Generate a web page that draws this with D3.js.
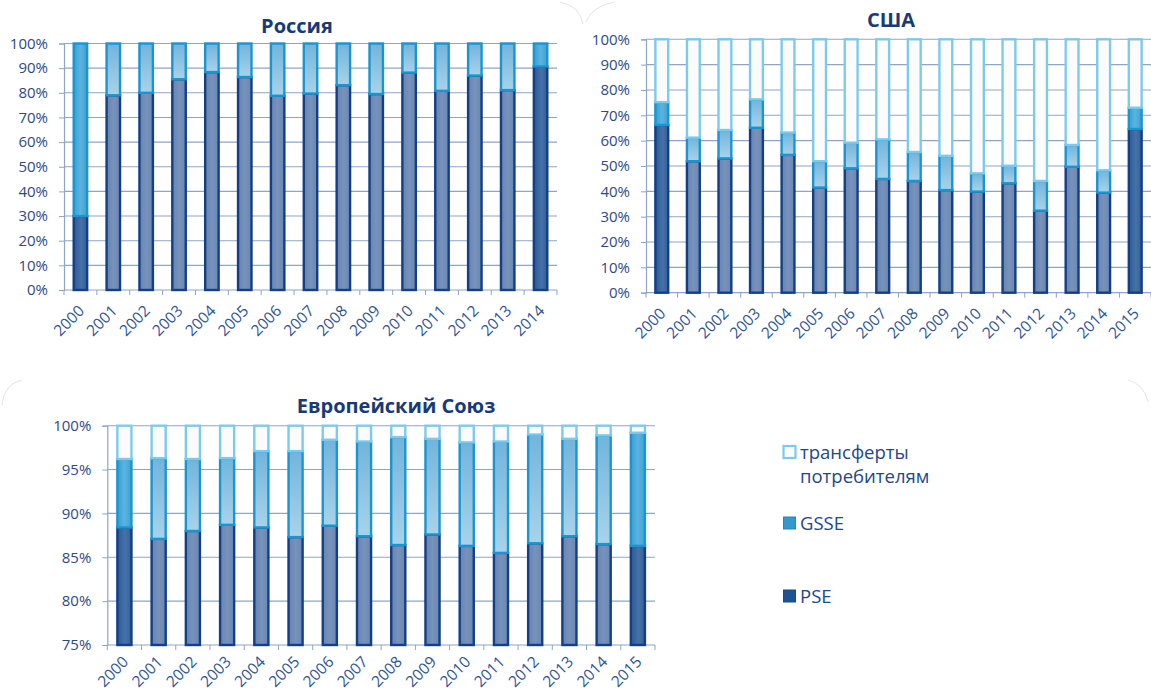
<!DOCTYPE html>
<html lang="ru">
<head>
    <meta charset="UTF-8">
    <title>PSE, GSSE и трансферты потребителям</title>
    <script src="https://cdn.jsdelivr.net/npm/d3@7"></script>
    <style>
        body { margin: 0; background: #fff; }
        text { font-family: "Open Sans", "DejaVu Sans", sans-serif; }
    </style>
</head>
<body>
<script>
    const [width, height] = [1151, 693]

    // данные, доли в % (PSE снизу, GSSE, трансферты сверху)
    const russiaYears = ['2000', '2001', '2002', '2003', '2004', '2005', '2006', '2007', '2008', '2009', '2010', '2011', '2012', '2013', '2014']
    const russiaPSE = [30, 79, 80, 85.5, 88.4, 86.4, 78.8, 79.7, 83.1, 79.5, 88.2, 80.8, 87, 81.1, 90.7]
    const russiaGSSE = [70, 21, 20, 14.5, 11.6, 13.6, 21.2, 20.3, 16.9, 20.5, 11.8, 19.2, 13, 18.9, 9.3]
    const russiaTransfers = [0, 0, 0, 0, 0, 0, 0, 0, 0, 0, 0, 0, 0, 0, 0]

    const usaYears = ['2000', '2001', '2002', '2003', '2004', '2005', '2006', '2007', '2008', '2009', '2010', '2011', '2012', '2013', '2014', '2015']
    const usaPSE = [66.2, 51.9, 53, 65.1, 54.4, 41.5, 49.1, 44.9, 44.1, 40.5, 39.9, 43.2, 32.4, 49.7, 39.5, 64.6]
    const usaGSSE = [9, 9.3, 11.2, 11.2, 8.8, 10.4, 10.1, 15.6, 11.4, 13.5, 7.2, 6.9, 11.7, 8.6, 8.8, 8.4]
    const usaTransfers = [24.8, 38.8, 35.8, 23.7, 36.8, 48.1, 40.8, 39.5, 44.5, 46, 52.9, 49.9, 55.9, 41.7, 51.7, 27]

    const euYears = ['2000', '2001', '2002', '2003', '2004', '2005', '2006', '2007', '2008', '2009', '2010', '2011', '2012', '2013', '2014', '2015']
    const euPSE = [88.4, 87.1, 88.0, 88.7, 88.4, 87.3, 88.6, 87.4, 86.4, 87.6, 86.3, 85.5, 86.6, 87.4, 86.5, 86.3]
    const euGSSE = [7.8, 9.2, 8.2, 7.6, 8.7, 9.8, 9.8, 10.8, 12.3, 10.9, 11.8, 12.7, 12.4, 11.1, 12.4, 12.9]
    const euTransfers = [3.8, 3.7, 3.8, 3.7, 2.9, 2.9, 1.6, 1.8, 1.3, 1.5, 1.9, 1.8, 1.0, 1.5, 1.1, 0.8]

    const fullTicks = [0, 10, 20, 30, 40, 50, 60, 70, 80, 90, 100]
    const euTicks = [75, 80, 85, 90, 95, 100]

    const keys = ['pse', 'gsse', 'transfers']
    const legendLabels = [['трансферты', 'потребителям'], ['GSSE'], ['PSE']]

    const svg = d3.select('body').append('svg').attr('width', width).attr('height', height)
    const defs = svg.append('defs')

    const addGradient = (id, stops, vertical) => {
        const g = defs.append('linearGradient').attr('id', id)
            .attr('x1', 0).attr('y1', 0).attr('x2', vertical ? 0 : 1).attr('y2', vertical ? 1 : 0)
        stops.forEach(([o, c]) => g.append('stop').attr('offset', o).attr('stop-color', c))
    }
    addGradient('pse', [[0, '#6784b0'], [0.5, '#7793bc'], [1, '#6a87b3']])
    addGradient('pseDark', [[0, '#2b5a96'], [0.55, '#4772a8'], [1, '#325f99']])
    addGradient('gsse', [[0, '#72b4dc'], [1, '#a8d3ea']], true)
    addGradient('gsseDark', [[0, '#35a0d4'], [0.5, '#5db3de'], [1, '#3aa2d5']])

    const stroke = { pse: '#123f85', gsse: '#1a95d0', transfers: '#7ccbee' }
    const fill = (key, dark) => key === 'transfers' ? '#fbfbfb' : `url(#${key}${dark ? 'Dark' : ''})`

    // едва заметные скругленные углы подложек
    const corners = svg.append('g').attr('fill', 'none').attr('stroke', '#dcdcdc').attr('stroke-width', 0.8)
    corners.append('path').attr('d', 'M560,2 Q580,6 583,24')
    corners.append('path').attr('d', 'M586,22 Q592,6 615,2')
    corners.append('path').attr('d', 'M2,405 Q4,384 22,380')
    corners.append('path').attr('d', 'M1128,380 Q1144,384 1148,402')

    const drawChart = ({ title, titleX, titleY, years, pse, gsse, transfers, x0, x1, y0, y1, domain, ticks, labelDy }) => {
        const table = years.map((year, i) => ({ year, pse: pse[i], gsse: gsse[i], transfers: transfers[i] }))
        const series = d3.stack().keys(keys)(table)

        const x = d3.scaleBand().domain(years).range([x0, x1]).paddingInner(0.53).paddingOuter(0.265)
        // для ЕС шкала начинается с 75%, нижняя часть столбца обрезается
        const y = d3.scaleLinear().domain(domain).range([y0, y1]).clamp(true)
        const g = svg.append('g')

        // сетка
        g.append('g').selectAll('line').data(ticks.slice(1)).join('line')
            .attr('x1', x0).attr('x2', x1)
            .attr('y1', d => y(d)).attr('y2', d => y(d))
            .attr('stroke', '#8ea4c8').attr('stroke-width', 1.1)

        // ось Y
        const yAxis = d3.axisLeft(y).tickValues(ticks).tickSize(5).tickPadding(11).tickFormat(d => d + '%')
        g.append('g').attr('transform', `translate(${x0},0)`).call(yAxis)
            .call(a => a.select('.domain').attr('stroke', '#8ea4c8').attr('stroke-width', 1.2))
            .call(a => a.selectAll('.tick line').attr('stroke', '#8ea4c8'))
            .call(a => a.selectAll('.tick text').attr('fill', '#2e4a86').attr('font-size', 15)
                .attr('font-family', '"Open Sans", sans-serif'))

        // ось X: деления по границам категорий
        const step = x.step()
        const bounds = d3.range(years.length + 1).map(i => x0 + i * step)
        g.append('line').attr('x1', x0).attr('x2', x1).attr('y1', y0).attr('y2', y0)
            .attr('stroke', '#8ea4c8').attr('stroke-width', 1.2)
        g.append('g').selectAll('line').data(bounds).join('line')
            .attr('x1', d => d).attr('x2', d => d).attr('y1', y0).attr('y2', y0 + 5)
            .attr('stroke', '#8ea4c8')
        g.append('g').selectAll('text').data(years).join('text')
            .attr('transform', d => `translate(${x(d) + x.bandwidth() / 2 + 1},${y0 + labelDy}) rotate(-45)`)
            .attr('text-anchor', 'end').attr('dy', '0.35em')
            .attr('fill', '#2f5597').attr('font-size', 15.5)
            .text(d => d)

        // столбцы
        const n = years.length
        g.append('g').selectAll('g').data(series).join('g')
            .each(function (s) {
                d3.select(this).selectAll('rect').data(s).join('rect')
                    .attr('x', d => x(d.data.year) + 1)
                    .attr('width', x.bandwidth() - 2)
                    .attr('y', d => y(d[1]))
                    .attr('height', d => Math.max(0, y(d[0]) - y(d[1])))
                    .attr('display', d => d[1] - d[0] > 0 ? null : 'none')
                    .attr('fill', (d, i) => fill(s.key, i === 0 || i === n - 1))
                    .attr('stroke', stroke[s.key]).attr('stroke-width', 2.4)
            })

        svg.append('text').attr('x', titleX).attr('y', titleY).attr('text-anchor', 'middle')
            .attr('font-size', 20).attr('font-weight', 700).attr('fill', '#173a78')
            .text(title)
    }

    drawChart({ title: 'Россия', titleX: 297, titleY: 33, years: russiaYears,
        pse: russiaPSE, gsse: russiaGSSE, transfers: russiaTransfers,
        x0: 64, x1: 557, y0: 290, y1: 43.5, domain: [0, 100], ticks: fullTicks, labelDy: 18 })

    drawChart({ title: 'США', titleX: 891, titleY: 27, years: usaYears,
        pse: usaPSE, gsse: usaGSSE, transfers: usaTransfers,
        x0: 646, x1: 1151, y0: 292.7, y1: 39.3, domain: [0, 100], ticks: fullTicks, labelDy: 18 })

    drawChart({ title: 'Европейский Союз', titleX: 396, titleY: 413, years: euYears,
        pse: euPSE, gsse: euGSSE, transfers: euTransfers,
        x0: 107.3, x1: 655, y0: 645, y1: 425.7, domain: [75, 100], ticks: euTicks, labelDy: 14 })

    // легенда
    const legendY = [446, 517, 590]
    const legendKeys = ['transfers', 'gsse', 'pse']
    const legendFill = { transfers: '#fbfbfb', gsse: '#3399cc', pse: '#1f5494' }
    const legend = svg.append('g')
    legendKeys.forEach((k, i) => {
        legend.append('rect').attr('x', 783.5).attr('y', legendY[i]).attr('width', 12).attr('height', 12)
            .attr('fill', legendFill[k]).attr('stroke', k === 'transfers' ? '#7ccbee' : d3.color(legendFill[k]).darker(0.4))
            .attr('stroke-width', k === 'transfers' ? 2.2 : 1)
        legendLabels[i].forEach((line, j) => {
            legend.append('text').attr('x', 800).attr('y', legendY[i] + 13 + j * 24)
                .attr('fill', '#24468a').attr('font-size', 18.5)
                .text(line)
        })
    })
</script>
</body>
</html>
